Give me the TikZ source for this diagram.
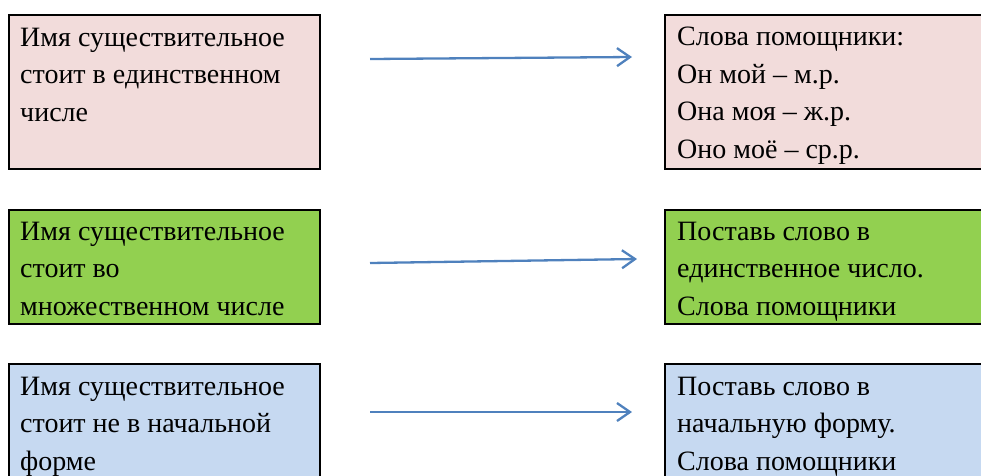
\documentclass[tikz,border=0pt]{standalone}
\usepackage{fontspec}
\setmainfont{Liberation Serif}
\usetikzlibrary{arrows.meta}
\definecolor{pinkfill}{HTML}{F2DCDB}
\definecolor{greenfill}{HTML}{92D050}
\definecolor{bluefill}{HTML}{C6D9F1}
\definecolor{arrowblue}{HTML}{4F81BD}
\newcommand{\boxtext}[1]{\parbox[t]{320pt}{\fontsize{28}{37.5}\selectfont\raggedright #1}}
\tikzset{
  box/.style={draw=black, line width=1.6pt, rectangle, inner sep=0pt, anchor=north west},
  lbox/.style={box, minimum width=311pt},
  rbox/.style={box, minimum width=340pt},
  txt/.style={anchor=base west, inner sep=0pt},
  arr/.style={draw=arrowblue, line width=2.3pt, -{Straight Barb[length=13pt,width=18pt,line width=2.3pt]}}
}
\begin{document}
\begin{tikzpicture}[x=1pt,y=-1pt]
\useasboundingbox (0,0) rectangle (981,475);
\clip (0,0) rectangle (981,475);
% boxes
\node[lbox, fill=pinkfill, minimum height=154pt] (tl) at (8,14) {};
\node[rbox, fill=pinkfill, minimum height=154pt] (tr) at (664,14) {};
\node[lbox, fill=greenfill, minimum height=114pt] (ml) at (8,209) {};
\node[rbox, fill=greenfill, minimum height=114pt] (mr) at (664,209) {};
\node[lbox, fill=bluefill, minimum height=140pt] (bl) at (8,363) {};
\node[rbox, fill=bluefill, minimum height=140pt] (br) at (664,363) {};
% texts
\node[txt] (tlt) at (20,46) {\boxtext{Имя существительное\\стоит в единственном\\числе}};
\node[txt] (trt) at (677,45.5) {\boxtext{Слова помощники:\\Он мой – м.р.\\Она моя – ж.р.\\Оно моё – ср.р.}};
\node[txt] (mlt) at (20,240) {\boxtext{Имя существительное\\стоит во\\множественном числе}};
\node[txt] (mrt) at (677,240) {\boxtext{Поставь слово в\\единственное число.\\Слова помощники}};
\node[txt] (blt) at (20,395) {\boxtext{Имя существительное\\стоит не в начальной\\форме}};
\node[txt] (brt) at (677,395) {\boxtext{Поставь слово в\\начальную форму.\\Слова помощники}};
% arrows
\coordinate (a1s) at (370,59);
\coordinate (a1e) at (632,57);
\coordinate (a2s) at (370,263);
\coordinate (a2e) at (637,259);
\coordinate (a3s) at (370,412);
\coordinate (a3e) at (632,412);
\draw[arr] (a1s) -- (a1e);
\draw[arr] (a2s) -- (a2e);
\draw[arr] (a3s) -- (a3e);
\end{tikzpicture}
\end{document}
